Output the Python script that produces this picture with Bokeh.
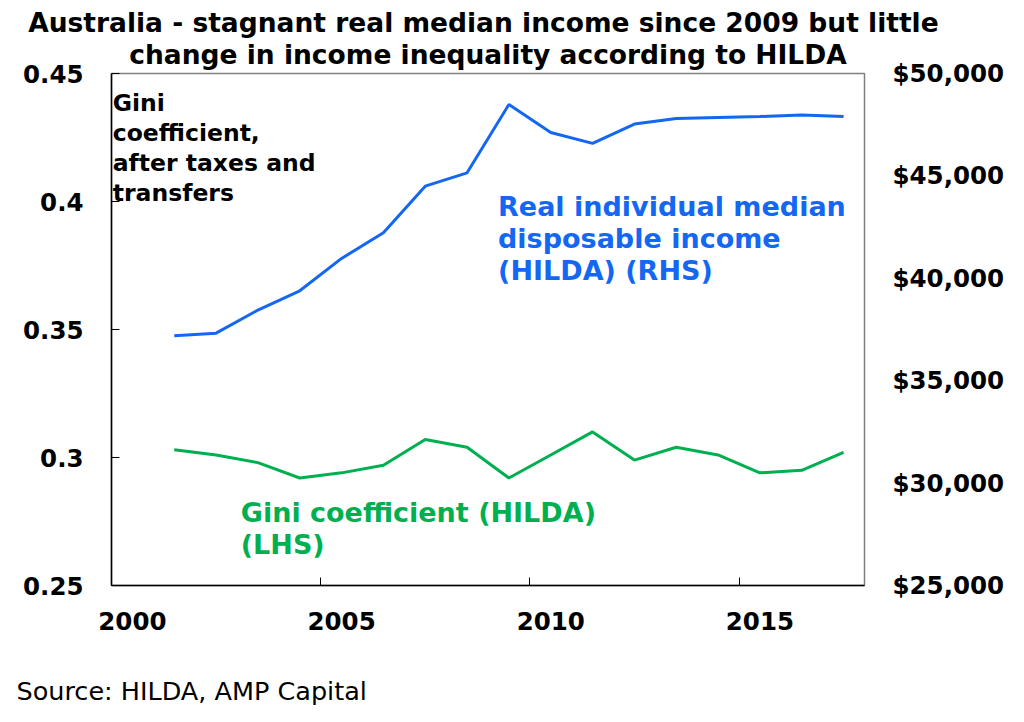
# Australia: real median income vs Gini coefficient (HILDA)
from bokeh.plotting import figure
from bokeh.models import (Range1d, LinearAxis, FixedTicker, NumeralTickFormatter,
                          CustomJSTickFormatter, Label, Title)
from bokeh.embed import file_html
from bokeh.resources import INLINE

# data
years = [2001, 2002, 2003, 2004, 2005, 2006, 2007, 2008, 2009,
         2010, 2011, 2012, 2013, 2014, 2015, 2016, 2017]
income = [37200, 37320, 38450, 39390, 40970, 42220, 44500, 45150, 48490,
          47120, 46590, 47530, 47800, 47850, 47900, 47970, 47900]
gini = [0.303, 0.301, 0.298, 0.292, 0.294, 0.297, 0.307, 0.304, 0.292,
        0.301, 0.310, 0.299, 0.304, 0.301, 0.294, 0.295, 0.302]
year_ticks = [2000, 2005, 2010, 2015]
gini_ticks = [0.25, 0.3, 0.35, 0.4, 0.45]
income_ticks = [25000, 30000, 35000, 40000, 45000, 50000]

# date axis: every year sits in the middle of its slot
x_mid = [y + 0.5 for y in years]

BLUE = "#1467F2"
GREEN = "#00B050"
FONT = "DejaVu Sans"

p = figure(frame_width=753, frame_height=512,
           x_range=Range1d(2000, 2018), y_range=Range1d(0.25, 0.45),
           output_backend="svg", toolbar_location=None,
           min_border_left=111, min_border_right=152,
           min_border_top=73, min_border_bottom=130)
p.extra_y_ranges = {"income": Range1d(25000, 50000)}
p.xgrid.visible = False
p.ygrid.visible = False
p.outline_line_color = "#808080"
p.outline_line_width = 1.5
p.background_fill_color = "white"
p.border_fill_color = "white"

# bottom axis: labels centred in year, tick marks at year start
xa = p.xaxis[0]
xa.ticker = FixedTicker(ticks=[t + 0.5 for t in year_ticks], minor_ticks=year_ticks)
xa.formatter = CustomJSTickFormatter(code="return Math.floor(tick).toString();")
xa.major_tick_in = 0
xa.major_tick_out = 0
xa.minor_tick_in = 8
xa.minor_tick_out = 0
xa.minor_tick_line_color = "black"
xa.axis_line_color = "black"
xa.axis_line_width = 1.5
xa.major_label_standoff = 26

# left axis: Gini
ya = p.yaxis[0]
ya.ticker = FixedTicker(ticks=gini_ticks)
ya.formatter = NumeralTickFormatter(format="0.0[0]")
ya.major_tick_in = 8
ya.major_tick_out = 0
ya.major_tick_line_color = "black"
ya.axis_line_color = "black"
ya.axis_line_width = 1.5
ya.major_label_standoff = 28

# right axis: income
ra = LinearAxis(y_range_name="income", ticker=FixedTicker(ticks=income_ticks),
                formatter=NumeralTickFormatter(format="$0,0"))
ra.major_tick_in = 0
ra.major_tick_out = 0
ra.axis_line_color = None
ra.major_label_standoff = 28
p.add_layout(ra, "right")

for ax in (xa, ya, ra):
    ax.major_label_text_font = FONT
    ax.major_label_text_font_style = "bold"
    ax.major_label_text_font_size = "24.5px"
    ax.major_label_text_color = "black"

p.line(x_mid, gini, line_color=GREEN, line_width=3)
p.line(x_mid, income, y_range_name="income", line_color=BLUE, line_width=3)

# annotations
def note(x, y, txt, color, size):
    p.add_layout(Label(x=x, y=y, text=txt, text_color=color, text_font=FONT,
                       text_font_style="bold", text_font_size=size,
                       text_align="left", text_baseline="alphabetic"))

for yy, txt in zip([0.4383, 0.4266, 0.4149, 0.4032],
                   ["Gini", "coefficient,", "after taxes and", "transfers"]):
    note(2000.03, yy, txt, "black", "23.5px")

for yy, txt in zip([0.3979, 0.3855, 0.3730],
                   ["Real individual median", "disposable income", "(HILDA) (RHS)"]):
    note(2009.24, yy, txt, BLUE, "27px")

for yy, txt in zip([0.2785, 0.2660], ["Gini coefficient (HILDA)", "(LHS)"]):
    note(2003.09, yy, txt, GREEN, "27px")

# title (two lines) and source
t2 = Title(text="change in income inequality according to HILDA", align="center",
           text_font=FONT, text_font_style="bold", text_font_size="26.5px",
           text_color="black", standoff=7)
t1 = Title(text="Australia  - stagnant real median income since 2009 but little",
           align="center", text_font=FONT, text_font_style="bold",
           text_font_size="26.5px", text_color="black", standoff=-8)
p.add_layout(t2, "above")
p.add_layout(t1, "above")

src = Title(text="Source: HILDA, AMP Capital", align="left", offset=-95,
            text_font=FONT, text_font_style="normal", text_font_size="25.5px",
            text_color="black", standoff=82)
p.add_layout(src, "below")

open("out.html", "w").write(file_html(p, INLINE))
